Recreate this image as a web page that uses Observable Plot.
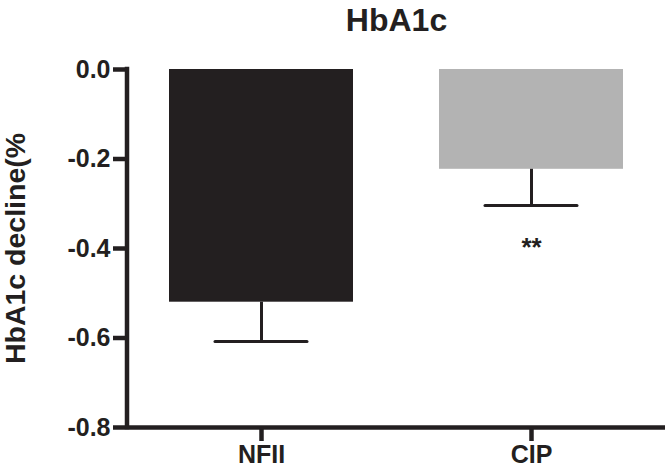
<!DOCTYPE html>
<html><head><meta charset="utf-8">
<script src="https://cdn.jsdelivr.net/npm/d3@7"></script>
<script src="https://cdn.jsdelivr.net/npm/@observablehq/plot@0.6"></script>
<style>
body{margin:0;background:#fff}
#chart svg [aria-label="y-axis tick"], #chart svg [aria-label="y-axis tick"] * {stroke-width:4.5px}
#chart svg [aria-label="x-axis tick"], #chart svg [aria-label="x-axis tick"] * {stroke-width:4.5px}
</style>
</head><body><div id="chart"></div>
<script>
const groups = ["NFII", "CIP"];
const means = [-0.52, -0.223];
const errors = [0.088, 0.081];
const colors = ["#231f20", "#b3b3b3"];
const yTicks = [0, -0.2, -0.4, -0.6, -0.8];
const starLabel = [{group: "CIP", y: -0.375, text: "**"}];
const title = "HbA1c";
const yLabel = "HbA1c decline(%";

const data = groups.map((g, i) => ({group: g, mean: means[i], err: errors[i], lo: means[i] - errors[i], color: colors[i]}));
const font = "Liberation Sans, Arial, Helvetica, sans-serif";

const chart = Plot.plot({
  width: 666, height: 468,
  marginLeft: 127, marginRight: 1, marginTop: 69, marginBottom: 41,
  style: {fontFamily: font, background: "#fff", color: "#231f20"},
  x: {domain: groups, paddingInner: 0.32, paddingOuter: 0.155, label: null},
  y: {domain: [-0.8, 0], label: null},
  marks: [
    Plot.barY(data, {x: "group", y: "mean", fill: "color"}),
    Plot.ruleX(data, {x: "group", y1: "mean", y2: "lo", stroke: "#231f20", strokeWidth: 3}),
    Plot.tickY(data, {x: "group", y: "lo", stroke: "#231f20", strokeWidth: 3, inset: 46, strokeLinecap: "round"}),
    Plot.text(starLabel, {x: "group", y: "y", text: "text", fontSize: 26, fontWeight: "bold", fill: "#231f20", lineAnchor: "top"}),
    Plot.axisY({ticks: yTicks, tickSize: 14, tickPadding: 3, strokeWidth: 4.5, fontSize: 25, fontWeight: "bold", tickFormat: d => d.toFixed(1), label: null}),
    Plot.axisX({tickSize: 14, tickPadding: 4, strokeWidth: 4.5, fontSize: 25, fontWeight: "bold", label: null}),
    Plot.ruleY([-0.8], {stroke: "#231f20", strokeWidth: 4.5}),
    Plot.text([title], {frameAnchor: "top", dy: -39, lineAnchor: "bottom", fontSize: 32, fontWeight: "bold", fill: "#231f20"}),
    Plot.text([yLabel], {frameAnchor: "left", dx: -112, rotate: -90, textAnchor: "middle", lineAnchor: "middle", fontSize: 28.5, fontWeight: "bold", fill: "#231f20"})
  ]
});
// y-axis line, positioned from the chart's own scales
const ys = chart.scale("y"), xs = chart.scale("x");
const xLeft = Math.min(...xs.range);
d3.select(chart).append("line")
  .attr("x1", xLeft).attr("x2", xLeft)
  .attr("y1", ys.apply(0) - 2.25).attr("y2", ys.apply(-0.8) + 2.25)
  .attr("stroke", "#231f20").attr("stroke-width", 4.5);
document.getElementById("chart").appendChild(chart);
</script>
</body></html>
